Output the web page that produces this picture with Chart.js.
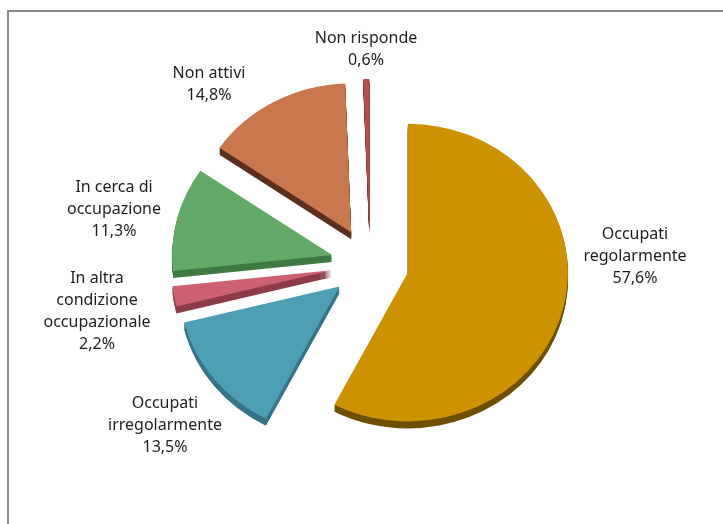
<!DOCTYPE html>
<html>
<head>
<meta charset="utf-8">
<script src="https://cdn.jsdelivr.net/npm/chart.js@4"></script>
<style>
  html, body { margin: 0; padding: 0; background: #fff; overflow: hidden; }
  #wrap { position: relative; width: 723px; height: 524px; }
  #frame { position: absolute; left: 7px; top: 10px; width: 780px; height: 580px; border: 2px solid #8c8c8c; box-sizing: border-box; }
  canvas { position: absolute; left: 0; top: 0; }
</style>
</head>
<body>
<div id="wrap">
  <div id="frame"></div>
  <canvas id="torta" width="723" height="524"></canvas>
</div>
<script>
// ─── DATI ───
var categorie = [
  ['Occupati', 'regolarmente'],
  ['Occupati', 'irregolarmente'],
  ['In altra', 'condizione', 'occupazionale'],
  ['In cerca di', 'occupazione'],
  ['Non attivi'],
  ['Non risponde']
];
var percentuali = [57.6, 13.5, 2.2, 11.3, 14.8, 0.6];

// ─── STILE ───
var colori     = ['#cc9200', '#4f9fb4', '#cc6171', '#62a866', '#c9774f', '#b94c4c'];
var coloriLato = ['#6e5000', '#367488', '#8e3c4a', '#3e7b44', '#5c2f1e', '#7a2a2a'];
// posizione della prima riga di ogni etichetta (centro testo)
var posEtichette = [[635, 234], [165, 403], [97, 278], [114, 187], [209, 73], [366, 38]];

var ESPLOSO = 39;     // distanza spicchi dal centro
var SCHIACCIA = 0.93; // prospettiva
var SPESSORE = 7;     // spessore 3D

function fmt(v) { return v.toFixed(1).replace('.', ',') + '%'; }

// disegna gli spicchi esplosi con un finto spessore 3D
var torta3d = {
  id: 'torta3d',
  beforeDatasetDraw: function(chart, args) {
    var ctx = chart.ctx;
    var archi = args.meta.data;
    if (!archi.length) return false;
    var cx = archi[0].x, cy = archi[0].y;

    function spostato(arc, dy, fn) {
      var mid = (arc.startAngle + arc.endAngle) / 2;
      ctx.save();
      ctx.translate(cx, cy + dy);
      ctx.scale(1, SCHIACCIA);
      ctx.translate(Math.cos(mid) * ESPLOSO - cx, Math.sin(mid) * ESPLOSO - cy);
      fn();
      ctx.restore();
    }

    // lati
    archi.forEach(function(arc, i) {
      for (var d = SPESSORE; d >= 1; d--) {
        spostato(arc, d, function() {
          ctx.beginPath();
          ctx.moveTo(cx, cy);
          ctx.arc(cx, cy, arc.outerRadius, arc.startAngle, arc.endAngle);
          ctx.closePath();
          ctx.fillStyle = coloriLato[i];
          ctx.fill();
        });
      }
    });
    // facce superiori
    archi.forEach(function(arc) {
      spostato(arc, 0, function() { arc.draw(ctx); });
    });
    return false;
  }
};

var etichette = {
  id: 'etichette',
  afterDatasetsDraw: function(chart) {
    var ctx = chart.ctx;
    ctx.save();
    ctx.font = '16px "Noto Sans", sans-serif';
    ctx.fillStyle = '#1e1e1e';
    ctx.textAlign = 'center';
    ctx.textBaseline = 'middle';
    categorie.forEach(function(righe, i) {
      var testo = righe.concat([fmt(percentuali[i])]);
      var p = posEtichette[i];
      testo.forEach(function(r, k) { ctx.fillText(r, p[0], p[1] + k * 22); });
    });
    ctx.restore();
  }
};

new Chart(document.getElementById('torta').getContext('2d'), {
  type: 'pie',
  data: {
    labels: categorie,
    datasets: [{
      data: percentuali,
      backgroundColor: colori,
      borderWidth: 0,
      hoverOffset: 0
    }]
  },
  options: {
    responsive: false,
    animation: false,
    radius: 160,
    layout: { padding: { left: 37, right: 20, top: 24, bottom: 20 } },
    plugins: {
      legend: { display: false },
      tooltip: { enabled: false }
    }
  },
  plugins: [torta3d, etichette]
});
</script>
</body>
</html>
